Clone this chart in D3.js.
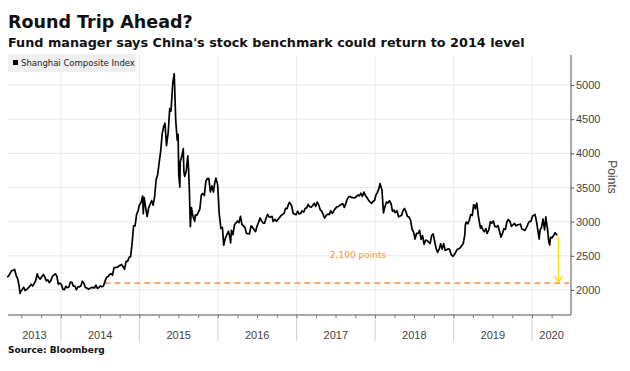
<!DOCTYPE html>
<html>
<head>
    <title></title>
    <meta charset="utf-8" />
    <script src="https://cdn.jsdelivr.net/npm/d3@7"></script>
    <style>
        body { margin: 0; background: #fff; }
        .title { font-family: "DejaVu Sans", sans-serif; font-weight: bold; fill: #111; }
        .tick-label { font-family: "Liberation Sans", Arial, sans-serif; font-size: 11px; fill: #444; }
    </style>
</head>
<body>
    <script>

        // Shanghai Composite Index, roughly weekly closes
        var dates = [
            '2013-04-26','2013-05-03','2013-05-10','2013-05-17','2013-05-24','2013-05-31','2013-06-07','2013-06-14','2013-06-20','2013-06-25','2013-06-28',
            '2013-07-05','2013-07-12','2013-07-19','2013-07-26','2013-08-02','2013-08-09','2013-08-16','2013-08-23','2013-08-30','2013-09-06','2013-09-13',
            '2013-09-18','2013-09-27','2013-10-11','2013-10-18','2013-10-25','2013-11-01','2013-11-08','2013-11-15','2013-11-22','2013-11-29','2013-12-06',
            '2013-12-13','2013-12-20','2013-12-27',
            '2014-01-03','2014-01-10','2014-01-17','2014-01-24','2014-01-30','2014-02-07','2014-02-14','2014-02-21','2014-02-28','2014-03-07','2014-03-14',
            '2014-03-21','2014-03-28','2014-04-04','2014-04-11','2014-04-18','2014-04-25','2014-05-02','2014-05-09','2014-05-16','2014-05-23','2014-05-30',
            '2014-06-06','2014-06-13','2014-06-20','2014-06-27','2014-07-04','2014-07-11','2014-07-18','2014-07-25','2014-08-01','2014-08-08','2014-08-15',
            '2014-08-22','2014-08-29','2014-09-05','2014-09-12','2014-09-19','2014-09-26','2014-10-10','2014-10-17','2014-10-24','2014-10-31','2014-11-07',
            '2014-11-14','2014-11-21','2014-11-28','2014-12-05','2014-12-12','2014-12-19','2014-12-26','2014-12-31',
            '2015-01-09','2015-01-16','2015-01-19','2015-01-23','2015-01-30','2015-02-06','2015-02-13','2015-02-27','2015-03-06','2015-03-13','2015-03-20',
            '2015-03-27','2015-04-03','2015-04-10','2015-04-17','2015-04-24','2015-04-30','2015-05-07','2015-05-15','2015-05-22','2015-05-28','2015-06-05',
            '2015-06-12','2015-06-19','2015-06-26','2015-06-30','2015-07-03','2015-07-08','2015-07-10','2015-07-17','2015-07-24','2015-07-27','2015-07-31',
            '2015-08-07','2015-08-14','2015-08-18','2015-08-21','2015-08-26','2015-08-31','2015-09-07','2015-09-15','2015-09-18','2015-09-25','2015-10-09',
            '2015-10-16','2015-10-23','2015-10-30','2015-11-06','2015-11-13','2015-11-20','2015-11-27','2015-12-04','2015-12-11','2015-12-18','2015-12-23',
            '2015-12-31',
            '2016-01-07','2016-01-15','2016-01-22','2016-01-28','2016-02-05','2016-02-19','2016-02-26','2016-02-29','2016-03-04','2016-03-11','2016-03-18',
            '2016-03-25','2016-04-01','2016-04-08','2016-04-15','2016-04-22','2016-04-29','2016-05-06','2016-05-13','2016-05-20','2016-05-27','2016-06-03',
            '2016-06-08','2016-06-17','2016-06-24','2016-07-01','2016-07-08','2016-07-15','2016-07-22','2016-07-29','2016-08-05','2016-08-12','2016-08-19',
            '2016-08-26','2016-09-02','2016-09-09','2016-09-14','2016-09-23','2016-09-30','2016-10-14','2016-10-21','2016-10-28','2016-11-04','2016-11-11',
            '2016-11-18','2016-11-25','2016-11-29','2016-12-09','2016-12-16','2016-12-23','2016-12-30',
            '2017-01-06','2017-01-13','2017-01-20','2017-01-26','2017-02-03','2017-02-10','2017-02-17','2017-02-24','2017-03-03','2017-03-10','2017-03-17',
            '2017-03-24','2017-03-31','2017-04-07','2017-04-14','2017-04-21','2017-04-28','2017-05-05','2017-05-11','2017-05-19','2017-05-26','2017-06-02',
            '2017-06-09','2017-06-16','2017-06-23','2017-06-30','2017-07-07','2017-07-14','2017-07-21','2017-07-28','2017-08-04','2017-08-11','2017-08-18',
            '2017-08-25','2017-09-01','2017-09-08','2017-09-15','2017-09-22','2017-09-29','2017-10-13','2017-10-20','2017-10-27','2017-11-03','2017-11-10',
            '2017-11-17','2017-11-24','2017-12-01','2017-12-08','2017-12-15','2017-12-22','2017-12-29',
            '2018-01-05','2018-01-12','2018-01-19','2018-01-24','2018-02-02','2018-02-09','2018-02-14','2018-02-23','2018-03-02','2018-03-09','2018-03-16',
            '2018-03-23','2018-03-30','2018-04-04','2018-04-13','2018-04-20','2018-04-27','2018-05-04','2018-05-11','2018-05-18','2018-05-25','2018-06-01',
            '2018-06-08','2018-06-15','2018-06-22','2018-06-29','2018-07-06','2018-07-13','2018-07-20','2018-07-27','2018-08-03','2018-08-10','2018-08-17',
            '2018-08-24','2018-08-31','2018-09-07','2018-09-14','2018-09-21','2018-09-28','2018-10-12','2018-10-19','2018-10-26','2018-11-02','2018-11-09',
            '2018-11-16','2018-11-23','2018-11-30','2018-12-07','2018-12-14','2018-12-21','2018-12-28',
            '2019-01-04','2019-01-11','2019-01-18','2019-01-25','2019-02-01','2019-02-15','2019-02-22','2019-02-25','2019-03-01','2019-03-08','2019-03-15',
            '2019-03-22','2019-03-29','2019-04-04','2019-04-08','2019-04-12','2019-04-19','2019-04-26','2019-05-06','2019-05-10','2019-05-17','2019-05-24',
            '2019-05-31','2019-06-06','2019-06-14','2019-06-21','2019-06-28','2019-07-05','2019-07-12','2019-07-19','2019-07-26','2019-08-02','2019-08-09',
            '2019-08-16','2019-08-23','2019-08-30','2019-09-06','2019-09-12','2019-09-20','2019-09-27','2019-10-11','2019-10-18','2019-10-25','2019-11-01',
            '2019-11-08','2019-11-15','2019-11-22','2019-11-29','2019-12-06','2019-12-13','2019-12-20','2019-12-27','2019-12-31',
            '2020-01-03','2020-01-10','2020-01-14','2020-01-17','2020-01-23','2020-02-03','2020-02-07','2020-02-14','2020-02-21','2020-02-28','2020-03-05',
            '2020-03-06','2020-03-13','2020-03-19','2020-03-23','2020-03-27','2020-04-03','2020-04-10','2020-04-17','2020-04-24','2020-04-28'
        ];

        var values = [
            2190, 2205, 2247, 2283, 2288, 2301, 2211, 2162, 2073, 1951, 1979,
            2007, 2040, 1992, 2010, 2029, 2053, 2085, 2057, 2098, 2139, 2237,
            2191, 2160, 2228, 2193, 2133, 2149, 2107, 2135, 2196, 2220, 2237,
            2204, 2084, 2101,
            2083, 2013, 2004, 2054, 2033, 2044, 2116, 2113, 2056, 2057, 2004,
            2047, 2046, 2058, 2130, 2097, 2036, 2027, 2011, 2026, 2034, 2039,
            2029, 2070, 2024, 2036, 2060, 2046, 2059, 2126, 2185, 2194, 2226,
            2240, 2217, 2326, 2331, 2329, 2347, 2374, 2341, 2302, 2420, 2418,
            2478, 2487, 2683, 2938, 2938, 3108, 3157, 3235,
            3285, 3376, 3116, 3351, 3210, 3076, 3203, 3310, 3241, 3372, 3617,
            3691, 3864, 4034, 4287, 4393, 4441, 4112, 4308, 4657, 4620, 5023,
            5166, 4478, 4192, 4277, 3686, 3507, 3877, 3957, 4070, 3725, 3664,
            3744, 3965, 3748, 3507, 2927, 3205, 3080, 3005, 3097, 3092, 3183,
            3391, 3412, 3382, 3590, 3632, 3630, 3436, 3524, 3434, 3578, 3636,
            3539,
            3125, 2900, 2916, 2656, 2763, 2860, 2767, 2688, 2874, 2810, 2955,
            2979, 3010, 2985, 3078, 2960, 2938, 2913, 2827, 2825, 2822, 2938,
            2927, 2885, 2854, 2932, 2989, 3054, 3012, 2979, 2977, 3050, 3108,
            3070, 3067, 3078, 3002, 3033, 3005, 3063, 3091, 3104, 3125, 3196,
            3192, 3262, 3283, 3233, 3123, 3110, 3104,
            3154, 3112, 3123, 3159, 3140, 3196, 3202, 3253, 3218, 3212, 3237,
            3269, 3223, 3287, 3246, 3173, 3155, 3103, 3053, 3091, 3110, 3106,
            3158, 3123, 3158, 3192, 3217, 3222, 3238, 3253, 3262, 3209, 3268,
            3332, 3367, 3366, 3353, 3353, 3349, 3390, 3378, 3416, 3372, 3433,
            3382, 3353, 3318, 3289, 3266, 3297, 3307,
            3391, 3429, 3487, 3559, 3462, 3129, 3199, 3289, 3273, 3307, 3269,
            3152, 3169, 3131, 3160, 3071, 3082, 3091, 3163, 3193, 3141, 3075,
            3067, 3022, 2889, 2847, 2747, 2831, 2829, 2873, 2740, 2795, 2669,
            2729, 2725, 2702, 2682, 2797, 2821, 2606, 2550, 2598, 2676, 2599,
            2679, 2579, 2588, 2605, 2593, 2516, 2494,
            2514, 2554, 2596, 2601, 2618, 2682, 2804, 2961, 2994, 2969, 3021,
            3104, 3090, 3246, 3244, 3189, 3270, 3086, 2906, 2939, 2882, 2853,
            2899, 2828, 2882, 3001, 2979, 3011, 2930, 2924, 2944, 2868, 2774,
            2824, 2898, 2886, 2999, 3031, 3006, 2932, 2974, 2938, 2955, 2958,
            2964, 2891, 2885, 2872, 2912, 2968, 3005, 3005, 3050,
            3083, 3092, 3106, 3075, 2977, 2746, 2876, 2917, 3039, 2880, 3071,
            3034, 2887, 2702, 2660, 2772, 2763, 2797, 2838, 2809, 2811
        ];

        var yTicks = [2000, 2500, 3000, 3500, 4000, 4500, 5000];
        var years = [2013, 2014, 2015, 2016, 2017, 2018, 2019, 2020];
        var targetLevel = 2100;
        var targetStart = '2014-07-22';

        var parse = d3.timeParse('%Y-%m-%d');
        var data = dates.map(function (d, i) { return { date: parse(d), value: values[i] }; });

        var width = 630, height = 371;
        var plotLeft = 8, plotRight = 571, plotTop = 55, plotBottom = 315;

        var svg = d3.select('body').append('svg').attr('width', width).attr('height', height);

        var x = d3.scaleTime()
            .domain([parse('2013-04-30'), parse('2020-06-30')])
            .range([plotLeft, plotRight]);

        var y = d3.scaleLinear()
            .domain([1634, 5440])
            .range([plotBottom, plotTop]);

        // titles
        svg.append('text').attr('class', 'title')
            .attr('x', 8).attr('y', 28)
            .style('font-size', '17.5px')
            .text('Round Trip Ahead?');

        svg.append('text').attr('class', 'title')
            .attr('x', 8).attr('y', 47)
            .style('font-size', '12.8px')
            .text("Fund manager says China's stock benchmark could return to 2014 level");

        // gridlines
        svg.append('g').selectAll('line').data(yTicks).enter()
            .append('line')
            .attr('x1', plotLeft).attr('x2', plotRight)
            .attr('y1', function (d) { return y(d); })
            .attr('y2', function (d) { return y(d); })
            .attr('stroke', '#e8e8e8');

        var yearStarts = years.slice(1).map(function (yr) { return new Date(yr, 0, 1); });

        svg.append('g').selectAll('line').data(yearStarts).enter()
            .append('line')
            .attr('x1', function (d) { return x(d); })
            .attr('x2', function (d) { return x(d); })
            .attr('y1', plotTop).attr('y2', plotBottom)
            .attr('stroke', '#ececec');

        // year separators under the axis
        svg.append('g').selectAll('line').data(yearStarts).enter()
            .append('line')
            .attr('x1', function (d) { return x(d); })
            .attr('x2', function (d) { return x(d); })
            .attr('y1', plotBottom).attr('y2', plotBottom + 26)
            .attr('stroke', '#cfcfcf');

        // x axis: quarterly minor ticks
        var xAxis = d3.axisBottom(x)
            .ticks(d3.timeMonth.every(3))
            .tickSize(3)
            .tickFormat('');

        var gx = svg.append('g').attr('transform', 'translate(0,' + plotBottom + ')').call(xAxis);
        gx.select('.domain').attr('stroke', '#555').attr('d', 'M' + plotLeft + ',0H' + plotRight);
        gx.selectAll('.tick line').attr('stroke', '#777');

        // year labels centred in the visible part of each year
        svg.append('g').selectAll('text').data(years).enter()
            .append('text')
            .attr('class', 'tick-label')
            .attr('text-anchor', 'middle')
            .attr('x', function (yr) {
                var a = Math.max(x(new Date(yr, 0, 1)), plotLeft);
                var b = Math.min(x(new Date(yr + 1, 0, 1)), plotRight);
                return (a + b) / 2;
            })
            .attr('y', plotBottom + 24)
            .text(function (d) { return d; });

        // y axis on the right
        var yAxis = d3.axisRight(y)
            .tickValues(yTicks)
            .tickFormat(d3.format('d'))
            .tickSize(3)
            .tickPadding(2);

        var gy = svg.append('g').attr('transform', 'translate(' + plotRight + ',0)').call(yAxis);
        gy.attr('font-family', null).attr('font-size', null);
        gy.select('.domain').attr('stroke', '#555').attr('d', 'M0,' + plotTop + 'V' + plotBottom);
        gy.selectAll('.tick line').attr('stroke', '#555');
        gy.selectAll('.tick text').attr('class', 'tick-label').attr('fill', null);

        svg.append('text')
            .attr('class', 'tick-label')
            .style('font-size', '12px')
            .attr('text-anchor', 'middle')
            .attr('transform', 'translate(' + 608 + ',' + ((plotTop + plotBottom) / 2 - 8) + ') rotate(90)')
            .text('Points');

        // 2,100 level
        svg.append('line')
            .attr('x1', x(parse(targetStart))).attr('x2', plotRight - 2)
            .attr('y1', y(targetLevel)).attr('y2', y(targetLevel))
            .attr('stroke', '#f5a15c')
            .attr('stroke-width', 1.8)
            .attr('stroke-dasharray', '6,4');

        svg.append('text')
            .attr('x', 358).attr('y', 258)
            .attr('text-anchor', 'middle')
            .style('font-family', '"DejaVu Sans", sans-serif')
            .style('font-size', '9px')
            .attr('fill', '#ee9448')
            .text('2,100 points');

        // index line
        var line = d3.line()
            .x(function (d) { return x(d.date); })
            .y(function (d) { return y(d.value); });

        svg.append('path')
            .datum(data)
            .attr('fill', 'none')
            .attr('stroke', '#000')
            .attr('stroke-width', 1.7)
            .attr('stroke-linejoin', 'round')
            .attr('d', line);

        // yellow arrow from last close down to 2,100
        var last = data[data.length - 1];
        var ax = x(last.date) + 1;
        var ay1 = y(last.value) + 2;
        var ay2 = y(targetLevel) - 1;

        svg.append('line')
            .attr('x1', ax).attr('x2', ax)
            .attr('y1', ay1).attr('y2', ay2)
            .attr('stroke', '#f2e21c')
            .attr('stroke-width', 1.6);

        svg.append('path')
            .attr('d', 'M' + (ax - 4) + ',' + (ay2 - 6) + 'L' + ax + ',' + ay2 + 'L' + (ax + 4) + ',' + (ay2 - 6))
            .attr('fill', 'none')
            .attr('stroke', '#f2e21c')
            .attr('stroke-width', 1.6);

        // legend
        var legend = svg.append('g');
        legend.append('rect')
            .attr('x', 8).attr('y', 54).attr('width', 128).attr('height', 18)
            .attr('fill', '#efefef');
        legend.append('rect')
            .attr('x', 13).attr('y', 60).attr('width', 5).attr('height', 5)
            .attr('fill', '#000');
        legend.append('text')
            .attr('x', 21).attr('y', 66)
            .style('font-family', '"DejaVu Sans", sans-serif')
            .style('font-size', '8.5px')
            .attr('fill', '#222')
            .text('Shanghai Composite Index');

        // source
        svg.append('text').attr('class', 'title')
            .attr('x', 8).attr('y', 353)
            .style('font-size', '9px')
            .text('Source: Bloomberg');
    </script>
</body>
</html>
